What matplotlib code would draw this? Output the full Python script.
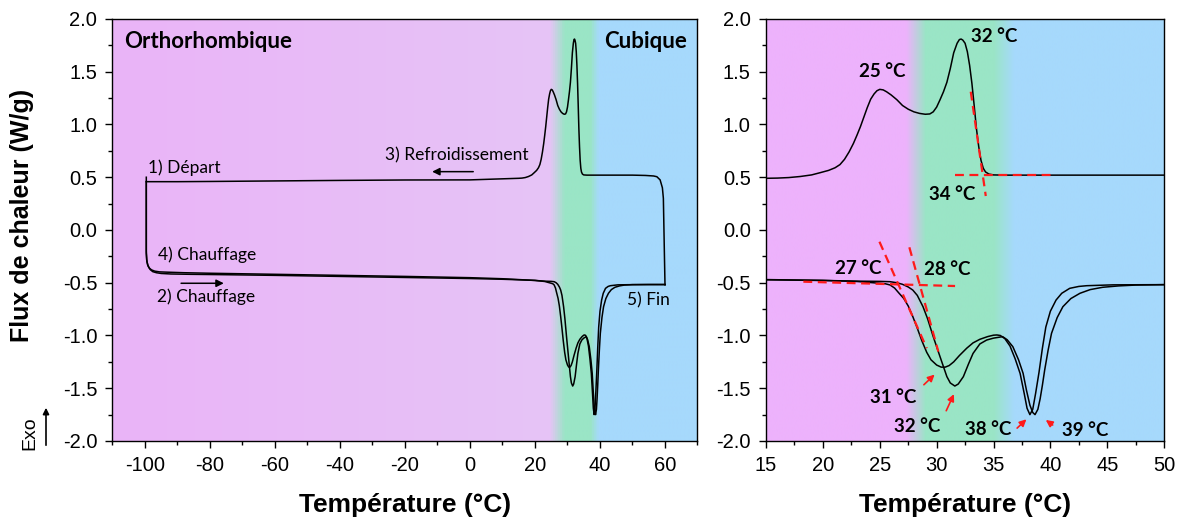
import matplotlib.pyplot as plt
import numpy as np
from matplotlib.colors import LinearSegmentedColormap

# Cooling run (60 -> -100 °C)
cool_T = [60, 59.8, 59.5, 59.2, 58.5, 57.5, 56.5, 54, 50, 45, 40, 36, 35.0,
          34.6, 34.3, 34.1, 33.9, 33.7, 33.5, 33.3, 33.1, 32.9, 32.7, 32.5,
          32.3, 32.15, 32.0, 31.8, 31.5, 31.2, 30.9, 30.6, 30.3, 30.0, 29.7,
          29.4, 29.0, 28.5, 28.0, 27.5, 27.0, 26.5, 26.0, 25.6, 25.3, 25.0,
          24.75, 24.5, 24.2, 23.9, 23.6, 23.3, 23.0, 22.68, 22.3, 21.9, 21.5,
          21.07, 20.5, 19.75, 19.0, 18.0, 17.0, 16.0, 15, 10, 0, -20, -40,
          -60, -80, -90, -99.6]
cool_F = [-0.52, -0.2, 0.3, 0.40, 0.475, 0.505, 0.512, 0.517, 0.52, 0.52,
          0.52, 0.52, 0.522, 0.53, 0.55, 0.585, 0.66, 0.79, 0.96, 1.18, 1.39,
          1.56, 1.69, 1.77, 1.80, 1.81, 1.805, 1.77, 1.68, 1.53, 1.40, 1.31,
          1.235, 1.165, 1.12, 1.10, 1.097, 1.105, 1.12, 1.145, 1.18, 1.235,
          1.28, 1.31, 1.328, 1.333, 1.32, 1.29, 1.24, 1.16, 1.07, 0.98, 0.90,
          0.82, 0.74, 0.67, 0.62, 0.59, 0.565, 0.543, 0.522, 0.507, 0.497,
          0.492, 0.49, 0.485, 0.475, 0.474, 0.47, 0.465, 0.46, 0.458, 0.458]

# Heating run 1 (minima at 31 and 38 °C)
heat1_T = [-99.6, -99.6, -99.5, -99.2, -98.7, -98.0, -97.0, -95.5, -93, -88,
           -80, -60, -40, -20, 0, 10, 15, 20, 23, 25, 25.5, 25.9, 26.3, 26.7,
           27.1, 27.5, 27.9, 28.25, 28.7, 29.13, 29.5, 30.0, 30.4, 30.75,
           31.1, 31.5, 32.0, 32.65, 33.2, 33.8, 34.5, 35.0, 35.3, 35.6, 36.0,
           36.45, 36.9, 37.34, 37.7, 37.95, 38.2, 38.45, 38.7, 39.0, 39.3,
           39.6, 40.0, 40.5, 41.0, 41.7, 42.5, 43.2, 45.5, 50, 55, 60]
heat1_F = [0.50, -0.20, -0.28, -0.33, -0.36, -0.378, -0.39, -0.397, -0.40,
           -0.405, -0.41, -0.42, -0.43, -0.44, -0.452, -0.462, -0.47, -0.478,
           -0.488, -0.505, -0.51, -0.521, -0.55, -0.60, -0.648, -0.72, -0.82,
           -0.917, -1.05, -1.16, -1.23, -1.28, -1.30, -1.30, -1.285, -1.25,
           -1.19, -1.12, -1.07, -1.036, -1.01, -0.997, -0.995, -1.0, -1.03,
           -1.10, -1.22, -1.36, -1.55, -1.69, -1.75, -1.70, -1.55, -1.35,
           -1.12, -0.92, -0.77, -0.664, -0.60, -0.553, -0.535, -0.528, -0.52,
           -0.518, -0.517, -0.517]

# Heating run 2 (minima at 32 and 39 °C)
heat2_T = [-99.6, -99.6, -99.4, -99.0, -98.4, -97.6, -96.5, -95.0, -92, -86,
           -80, -60, -40, -20, 0, 10, 15, 20, 23, 25.0, 25.9, 26.5, 27.0,
           27.5, 27.9, 28.3, 28.8, 29.2, 29.7, 30.2, 30.6, 30.9, 31.2, 31.6,
           31.9, 32.35, 32.8, 33.2, 33.8, 34.4, 35.0, 35.8, 36.2, 36.7, 37.2,
           37.6, 37.9, 38.2, 38.45, 38.65, 38.9, 39.1, 39.3, 39.5, 39.8, 40.1,
           40.6, 41.1, 41.8, 42.6, 43.5, 44.6, 46, 47.5, 50, 55, 60]
heat2_F = [0.458, -0.22, -0.30, -0.345, -0.375, -0.395, -0.405, -0.412,
           -0.417, -0.42, -0.422, -0.43, -0.44, -0.45, -0.46, -0.467, -0.472,
           -0.478, -0.485, -0.487, -0.49, -0.50, -0.515, -0.54, -0.569, -0.62,
           -0.727, -0.84, -1.011, -1.17, -1.296, -1.39, -1.45, -1.479, -1.46,
           -1.39, -1.27, -1.17, -1.08, -1.043, -1.025, -1.011, -1.04, -1.106,
           -1.23, -1.358, -1.52, -1.66, -1.73, -1.75, -1.70, -1.60, -1.47,
           -1.327, -1.14, -0.98, -0.83, -0.727, -0.65, -0.60, -0.565, -0.543,
           -0.53, -0.522, -0.518, -0.517, -0.517]

# Onset tangents drawn on the zoomed panel
tan34_T = [33.0, 34.32]
tan34_F = [1.311, 0.322]
base34_T = [31.62, 40.13]
base34_F = [0.521, 0.521]
tan27_T = [24.97, 29.13]
tan27_F = [-0.111, -1.121]
tan28_T = [27.6, 30.15]
tan28_F = [-0.164, -1.153]
baseh_T = [18.28, 31.62]
baseh_F = [-0.49, -0.531]

# Background phase colours (temperature stops)
left_bg_T = [-110, 25, 29.5, 37.5, 40, 70]
left_bg_c = ['#EAB4F8', '#E6C4F6', '#9AE5C6', '#9AE5C6', '#A6D9FC', '#A6D9FC']
right_bg_T = [15, 27.3, 29, 35, 36.8, 50]
right_bg_c = ['#EDB2FC', '#EDB2FC', '#9AE5C6', '#9AE5C6', '#A6D9FC', '#A6D9FC']

plt.rcParams['font.family'] = ['Liberation Sans', 'DejaVu Sans']
plt.rcParams['axes.unicode_minus'] = False
ann_font = ['Lato', 'DejaVu Sans']


def draw_background(ax, stops_T, stops_c, xlim, ylim):
    lo, hi = xlim
    pos = [(t - lo) / (hi - lo) for t in stops_T]
    cmap = LinearSegmentedColormap.from_list('bg', list(zip(pos, stops_c)))
    ax.imshow(np.linspace(0, 1, 1024)[None, :], cmap=cmap, aspect='auto',
              extent=(lo, hi, ylim[0], ylim[1]), zorder=0,
              interpolation='bilinear')


def style_axes(ax, xlim, xmaj, xmin):
    ax.set_xlim(*xlim)
    ax.set_ylim(-2.0, 2.0)
    ax.set_xticks(np.arange(xlim[0] + (xmaj - xlim[0] % xmaj) % xmaj,
                            xlim[1] + 0.01, xmaj))
    ax.set_xticks(np.arange(xlim[0], xlim[1] + 0.01, xmin), minor=True)
    ax.set_yticks(np.arange(-2.0, 2.01, 0.5))
    ax.set_yticks(np.arange(-2.0, 2.01, 0.25), minor=True)
    ax.set_yticklabels(['%.1f' % v for v in np.arange(-2.0, 2.01, 0.5)])
    ax.tick_params(which='major', direction='out', length=5, width=1,
                   labelsize=14.5, pad=6, top=False, right=False)
    ax.tick_params(which='minor', direction='out', length=3, width=1,
                   top=False, right=False)
    for sp in ax.spines.values():
        sp.set_linewidth(1.0)
    ax.set_xlabel('Température (°C)', fontsize=19, fontweight='bold',
                  labelpad=13)


def plot_curves(ax):
    for T, F in ((cool_T, cool_F), (heat1_T, heat1_F), (heat2_T, heat2_F)):
        ax.plot(T, F, color='black', lw=1.1, zorder=2)


fig = plt.figure(figsize=(11.78, 5.19), dpi=100)
ax1 = fig.add_axes([0.0955, 0.1503, 0.4966, 0.8131])
ax2 = fig.add_axes([0.6503, 0.1503, 0.3379, 0.8131])

# ---- left panel: full cycle ----
draw_background(ax1, left_bg_T, left_bg_c, (-110, 70), (-2, 2))
plot_curves(ax1)
style_axes(ax1, (-110, 70), 20, 10)
ax1.set_ylabel('Flux de chaleur (W/g)', fontsize=18, fontweight='bold')
ax1.yaxis.set_label_coords(-0.135, 0.535)

ax1.text(-106.5, 1.79, 'Orthorhombique', family=ann_font, fontsize=16,
         fontweight='bold', va='center', ha='left')
ax1.text(66.8, 1.79, 'Cubique', family=ann_font, fontsize=16,
         fontweight='bold', va='center', ha='right')
small = dict(family=ann_font, fontsize=12.5, va='center')
ax1.text(-99, 0.594, '1) Départ', **small)
ax1.text(-96.1, -0.237, '4) Chauffage', **small)
ax1.text(-96.4, -0.632, '2) Chauffage', **small)
ax1.text(-26.2, 0.711, '3) Refroidissement', **small)
ax1.text(48.2, -0.664, '5) Fin', **small)
arrow_k = dict(arrowstyle='-|>', color='black', lw=1.1, mutation_scale=11)
ax1.annotate('', xy=(-74.9, -0.505), xytext=(-89.75, -0.505),
             arrowprops=arrow_k)
ax1.annotate('', xy=(-12.5, 0.553), xytext=(1.85, 0.553), arrowprops=arrow_k)

# ---- right panel: zoom on the transitions ----
draw_background(ax2, right_bg_T, right_bg_c, (15, 50), (-2, 2))
plot_curves(ax2)
style_axes(ax2, (15, 50), 5, 2.5)

dash = dict(color='#FF1A1A', lw=1.6, ls=(0, (4, 2.5)), zorder=3)
for T, F in ((tan34_T, tan34_F), (base34_T, base34_F), (tan27_T, tan27_F),
             (tan28_T, tan28_F), (baseh_T, baseh_F)):
    ax2.plot(T, F, **dash)

lab = dict(family=ann_font, fontsize=13.5, fontweight='bold', ha='center',
           va='center')
ax2.text(25.25, 1.507, '25 °C', **lab)
ax2.text(35.05, 1.832, '32 °C', **lab)
ax2.text(31.36, 0.338, '34 °C', **lab)
ax2.text(23.1, -0.363, '27 °C', **lab)
ax2.text(30.95, -0.373, '28 °C', **lab)
ax2.text(26.2, -1.59, '31 °C', **lab)
ax2.text(28.3, -1.864, '32 °C', **lab)
ax2.text(34.5, -1.89, '38 °C', **lab)
ax2.text(43.05, -1.9, '39 °C', **lab)

arrow_r = dict(arrowstyle='-|>', color='#FF1A1A', lw=1.2, mutation_scale=10)
ax2.annotate('', xy=(30.0, -1.352), xytext=(28.7, -1.485), arrowprops=arrow_r)
ax2.annotate('', xy=(31.62, -1.532), xytext=(30.74, -1.737),
             arrowprops=arrow_r)
ax2.annotate('', xy=(38.07, -1.776), xytext=(36.9, -1.896), arrowprops=arrow_r)
ax2.annotate('', xy=(39.4, -1.785), xytext=(40.4, -1.864), arrowprops=arrow_r)

# "Exo" direction marker
fig.text(30 / 1178, 1 - 433 / 519, 'Exo', rotation=90, fontsize=14,
         ha='center', va='center')
ax1.annotate('', xy=(46 / 1178, 1 - 405 / 519),
             xytext=(46 / 1178, 1 - 448 / 519), xycoords='figure fraction',
             textcoords='figure fraction', annotation_clip=False,
             arrowprops=dict(arrowstyle='-|>', color='black', lw=1.2,
                             mutation_scale=9))

fig.savefig('out.png', dpi=100)
